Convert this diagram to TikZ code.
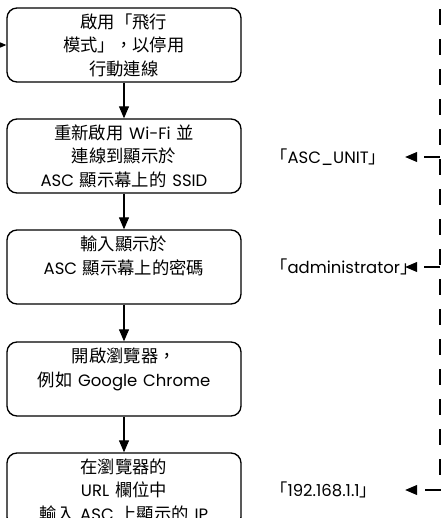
\documentclass[tikz,border=0pt]{standalone}
\usepackage{fontspec}
\setmainfont{Noto Sans CJK TC}
\newfontfamily\latinfont[Scale=0.95]{Poppins}
\newcommand{\en}[1]{{\latinfont #1}}
\usetikzlibrary{arrows.meta}

\begin{document}
\begin{tikzpicture}[x=0.75pt, y=-0.75pt,
    stepbox/.style={draw, line width=1pt, rounded corners=7.5pt,
      minimum width=175.5pt, minimum height=55.5pt, text width=170pt,
      align=center, inner sep=0pt, font=\fontsize{13}{17.6}\selectfont},
    flow/.style={-{Triangle[length=9pt,width=7.5pt]}, line width=0.8pt},
    link/.style={flow, dash pattern=on 12pt off 10.5pt},
    val/.style={anchor=west, text width=101pt, align=left, inner sep=0pt,
      font=\fontsize{13}{17.6}\selectfont}]
  \useasboundingbox (0,0) rectangle (446,518);

  % steps
  \node[stepbox] (airplane) at (124,45) {啟用「飛行\\模式」，以停用\\行動連線};
  \node[stepbox] (wifi) at (124,156) {重新啟用 \en{Wi-Fi} 並\\連線到顯示於\\\en{ASC} 顯示幕上的 \en{SSID}};
  \node[stepbox] (passwd) at (124,267) {輸入顯示於\\\en{ASC} 顯示幕上的密碼\\~};
  \node[stepbox] (browser) at (124,379) {開啟瀏覽器，\\例如 \en{Google Chrome}\\~};
  \node[stepbox] (urlip) at (124,490) {在瀏覽器的\\\en{URL} 欄位中\\輸入 \en{ASC} 上顯示的 \en{IP}};

  \coordinate (feed) at (-20,45);
  \draw[flow] (feed) -- (airplane.west);
  \foreach \a/\b in {airplane/wifi, wifi/passwd, passwd/browser, browser/urlip}
    \draw[flow] (\a) -- (\b);

  % values on the right
  \node[val] (ssidval) at (270,157) {「\en{ASC\_UNIT}」};
  \node[val] (pwval) at (270,267) {「\en{administrator}」};
  \node[val] (ipval) at (270,490) {「\en{192.168.1.1}」};

  \coordinate (railtop) at (440,-21);
  \coordinate (tap1) at (440,157);
  \coordinate (tap2) at (440,267);
  \draw[link] (railtop) |- (ipval.east);
  \draw[link] (tap1) -- (ssidval.east);
  \draw[link] (tap2) -- (pwval.east);
\end{tikzpicture}
\end{document}
